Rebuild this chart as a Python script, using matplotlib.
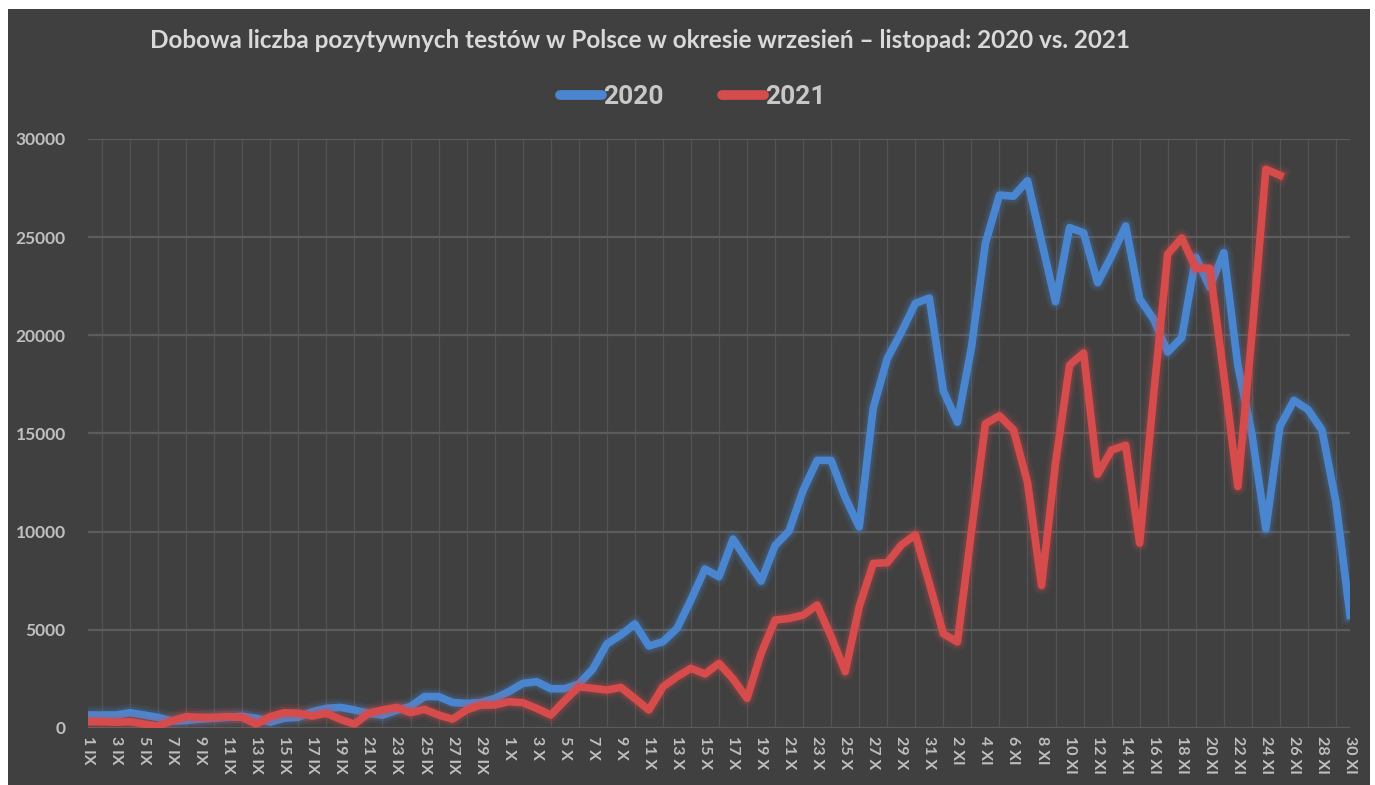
import matplotlib
matplotlib.use("Agg")
import matplotlib.pyplot as plt
import matplotlib.patheffects as pe
from matplotlib.patches import Rectangle
from matplotlib.font_manager import FontProperties
import numpy as np

# daily positive tests, 1 IX - 30 XI
cases_2020 = [660, 660, 660, 780, 660, 540, 350, 380, 450, 500,
              550, 600, 500, 300, 500, 550, 830, 1000, 1050, 920,
              750, 650, 900, 1100, 1600, 1600, 1300, 1250, 1300, 1500,
              1850, 2270, 2360, 2000, 2000, 2240, 3003, 4280, 4739, 5300,
              4178, 4394, 5068, 6526, 8099, 7705, 9622, 8536, 7482, 9291,
              10040, 12107, 13632, 13628, 11742, 10241, 16300, 18820, 20156, 21629,
              21897,
              17171, 15578, 19364, 24692, 27143, 27086, 27875, 24785, 21713, 25484,
              25221, 22683, 24051, 25571, 21854, 20816, 19152, 19883, 23975, 22464,
              24213, 18467, 15002, 10139, 15362, 16687, 16220, 15178, 11483, 5733]

cases_2021 = [320, 320, 290, 320, 200, 100, 370, 580, 540, 540,
              580, 540, 200, 580, 780, 750, 610, 750, 440, 200,
              750, 920, 1050, 780, 950, 660, 450, 920, 1170, 1170,
              1340, 1290, 1000, 660, 1400, 2100, 2020, 1935, 2070, 1500,
              920, 2100, 2610, 3040, 2750, 3290, 2500, 1510, 3800, 5500,
              5580, 5750, 6260, 4650, 2870, 6180, 8380, 8420, 9320, 9840,
              7370,
              4800, 4380, 10000, 15500, 15900, 15190, 12510, 7260, 13500, 18480,
              19100, 12920, 14160, 14400, 9420, 17000, 24140, 24960, 23420, 23420,
              18000, 12300, 20000, 28460, 28150]

months = [("IX", 30), ("X", 31), ("XI", 30)]
days = [f"{d} {m}" for m, n in months for d in range(1, n + 1)]

bg = "#404040"
txt = "#bfbfbf"
blue = "#4a86d0"
red = "#d64b4b"

plt.rcParams["font.family"] = ["Lato", "DejaVu Sans"]

fig = plt.figure(figsize=(13.75, 7.85), dpi=100, facecolor="white")
fig.patches.append(Rectangle((8 / 1375, 0), 1362 / 1375, 776 / 785,
                             transform=fig.transFigure, facecolor=bg,
                             edgecolor="none", zorder=-1))
ax = fig.add_axes([88 / 1375, 57 / 785, 1262 / 1375, 589 / 785])
ax.set_facecolor(bg)

x = np.arange(len(days))

def glow(c):
    return [pe.Stroke(linewidth=13, foreground=c, alpha=0.10, joinstyle="round"),
            pe.Stroke(linewidth=9, foreground=c, alpha=0.18, joinstyle="round"),
            pe.Normal()]

ax.plot(x[:len(cases_2020)], cases_2020, color=blue, lw=5.5,
        solid_joinstyle="round", path_effects=glow(blue), label="2020", zorder=3)
ax.plot(x[:len(cases_2021)], cases_2021, color=red, lw=5.5,
        solid_joinstyle="round", path_effects=glow(red), label="2021", zorder=4)

ax.set_xlim(0, len(days) - 1)
ax.set_ylim(0, 30000)
ax.set_yticks(range(0, 30001, 5000))
ax.set_xticks(x[::2])
ax.set_xticklabels(days[::2], rotation=-90, fontsize=11.5, fontweight="bold",
                   color=txt, va="top")
ax.set_xticks(x, minor=True)
ax.tick_params(axis="x", which="both", length=0, pad=6)
ax.tick_params(axis="y", length=0, pad=16, labelsize=12.5, labelcolor=txt)
for lab in ax.get_yticklabels():
    lab.set_fontweight("bold")

ax.grid(axis="y", which="major", color="#5c5c5c", lw=1.6)
ax.grid(axis="x", which="minor", color="#545454", lw=0.9)
ax.set_axisbelow(True)
for s in ax.spines.values():
    s.set_visible(False)

fig.text(640 / 1375, 1 - 40 / 785,
         "Dobowa liczba pozytywnych testów w Polsce w okresie wrzesień – listopad: 2020 vs. 2021",
         ha="center", va="center", fontsize=17.5, fontweight="bold",
         color="#d9d9d9")

leg_font = FontProperties(family="Roboto", weight="bold", size=19)
leg = fig.legend(loc="center", bbox_to_anchor=(693 / 1375, 1 - 97 / 785), ncol=2,
                 frameon=False, handlelength=1.6, handletextpad=0.05,
                 columnspacing=2.2, prop=leg_font)
for t in leg.get_texts():
    t.set_color("#c8c8c8")
for h in leg.legend_handles:
    h.set_linewidth(7)
    h.set_solid_capstyle("round")
    h.set_path_effects([])

fig.savefig("out.png", dpi=100, facecolor="white")
